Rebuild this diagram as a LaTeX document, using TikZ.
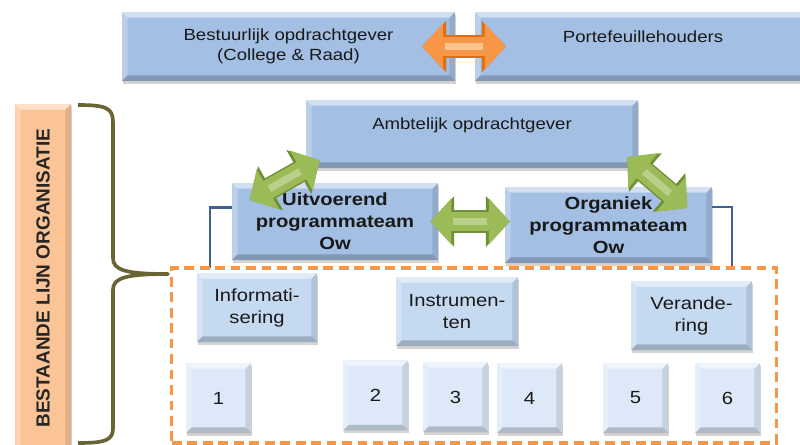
\documentclass[tikz,border=0pt]{standalone}
\usepackage{fontspec}
\setmainfont[FakeStretch=1.15]{Liberation Sans}
\newfontfamily\labelfont{Liberation Sans}
\usetikzlibrary{positioning, shadows, arrows.meta}

\definecolor{boxblue}{RGB}{163,191,228}
\definecolor{subblue}{RGB}{197,217,241}
\definecolor{numblue}{RGB}{221,233,248}
\definecolor{lijnorange}{RGB}{251,196,150}
\definecolor{accorange}{RGB}{247,150,70}
\definecolor{darkorange}{RGB}{226,110,20}
\definecolor{paleorange}{RGB}{250,196,140}
\definecolor{accgreen}{RGB}{155,187,89}
\definecolor{darkgreen}{RGB}{112,142,52}
\definecolor{lightgreen}{RGB}{186,208,138}
\definecolor{linkblue}{RGB}{62,98,146}
\definecolor{braceolive}{RGB}{106,99,52}

\tikzset{
  % bevelled edges: light on top and left, dark on right and bottom
  bevel/.style={path picture={
    \fill[white,opacity=.5] (path picture bounding box.north west) -- (path picture bounding box.north east)
      -- ([shift={(-4pt,-4pt)}]path picture bounding box.north east) -- ([shift={(4pt,-4pt)}]path picture bounding box.north west) -- cycle;
    \fill[white,opacity=.25] (path picture bounding box.north west) -- ([shift={(4pt,-4pt)}]path picture bounding box.north west)
      -- ([shift={(4pt,4pt)}]path picture bounding box.south west) -- (path picture bounding box.south west) -- cycle;
    \fill[black,opacity=.1] (path picture bounding box.north east) -- ([shift={(-4pt,-4pt)}]path picture bounding box.north east)
      -- ([shift={(-4pt,4pt)}]path picture bounding box.south east) -- (path picture bounding box.south east) -- cycle;
    \fill[black,opacity=.2] (path picture bounding box.south west) -- ([shift={(4pt,4pt)}]path picture bounding box.south west)
      -- ([shift={(-4pt,4pt)}]path picture bounding box.south east) -- (path picture bounding box.south east) -- cycle;
  }},
  box/.style={bevel, fill=boxblue, text=black!90, align=center, inner sep=0pt,
    drop shadow={shadow xshift=.6pt, shadow yshift=-1.8pt, opacity=.35},
    font=\fontsize{11.5}{14.2}\selectfont},
  team/.style={box, font=\bfseries\fontsize{12.5}{15.6}\selectfont},
  sub/.style={box, fill=subblue, font=\fontsize{12.5}{15.6}\selectfont,
    minimum width=3.025cm, minimum height=1.725cm},
  num/.style={box, fill=numblue, font=\fontsize{12.5}{15}\selectfont,
    minimum width=1.625cm, minimum height=1.75cm},
  lijn/.style={box, fill=lijnorange, minimum width=1.4cm, minimum height=8.7cm},
  dashframe/.style={draw=accorange, line width=2.2pt, dash pattern=on 7pt off 4pt,
    minimum width=15.1cm, minimum height=4.375cm, inner sep=0pt},
  link/.style={draw=linkblue, line width=2pt},
  garrow/.style={draw=accgreen, line width=14pt,
    arrows={Triangle[length=15pt,width=32pt]-Triangle[length=15pt,width=32pt]},
    preaction={draw=darkgreen, line width=16pt,
      arrows={Triangle[length=17pt,width=35pt]-Triangle[length=17pt,width=35pt]}},
    postaction={draw=lightgreen, line width=5pt, arrows=-, shorten <=16pt, shorten >=16pt}},
  oarrow/.style={garrow, draw=accorange,
    preaction={draw=darkorange, line width=16pt,
      arrows={Triangle[length=17pt,width=35pt]-Triangle[length=17pt,width=35pt]}},
    postaction={draw=paleorange, line width=5pt, arrows=-, shorten <=16pt, shorten >=16pt}},
  brace/.style={draw=braceolive, line width=2.6pt, line join=round},
}

\begin{document}
\begin{tikzpicture}[x=0.025cm, y=-0.025cm]
\useasboundingbox (0,0) rectangle (800,445);
\clip (0,0) rectangle (800,445);

% bestuurlijke laag
\node[box, minimum width=8.325cm, minimum height=1.725cm] (bestuur) at (288.5,46.5)
  {Bestuurlijk opdrachtgever\\(College \& Raad)};
\node[box, minimum width=8.4cm, minimum height=1.725cm] (porte) at (643,46.5)
  {Portefeuillehouders\\\mbox{}};
\draw[oarrow] ([xshift=-.83cm]bestuur.east) -- ([xshift=.78cm]porte.west);

% ambtelijke laag
\node[box, minimum width=8.3cm, minimum height=1.7cm] (ambt) at (472,134)
  {Ambtelijk opdrachtgever\\\mbox{}};
\node[team, minimum width=5.15cm, minimum height=1.925cm] (uit) at (335,221.5)
  {Uitvoerend\\programmateam\\Ow};
\node[team, minimum width=5.175cm, minimum height=1.9cm] (org) at (608.5,225)
  {Organiek\\programmateam\\Ow};

% lijnorganisatie
\node[lijn] (lijn) at (43,278) {};
\node[rotate=90, text=black!85, font=\labelfont\bfseries\fontsize{13.5}{16}\selectfont]
  (lijntekst) at (lijn.center) {BESTAANDE LIJN ORGANISATIE};
\draw[brace] (78,105) .. controls (106,105) and (113,108) .. (113,122) -- (113,258)
  .. controls (113,270) and (125,274) .. (168,274)
  .. controls (125,274) and (113,278) .. (113,290) -- (113,428)
  .. controls (113,440) and (106,443) .. (78,443);

\coordinate (lvoet) at (210,268);
\coordinate (rvoet) at (732,268);
\draw[link] ([yshift=.34cm]uit.west) -| (lvoet);
\draw[link] ([yshift=.45cm]org.east) -| (rvoet);
\node[dashframe] (bestaand) at (474,355.5) {};

\node[sub, minimum width=3cm] (info) at (257,307.5) {Informati-\\sering};
\node[sub, minimum width=3.05cm] (instr) at (457,311.5) {Instrumen-\\ten};
\node[sub] (verand) at (691.5,315.5) {Verande-\\ring};
\foreach \n/\x/\y in {1/218.5/398, 2/375.5/395.5, 3/455.5/397, 4/529.5/398, 5/635.5/398, 6/727.5/398}
  \node[num] (n\n) at (\x,\y) {\n};

% samenwerking
\draw[garrow] ([shift={(.45cm,-.43cm)}]uit.north west) -- ([shift={(.35cm,.2cm)}]ambt.south west);
\draw[garrow] ([shift={(-.28cm,.28cm)}]ambt.south east) -- ([shift={(-.63cm,-.53cm)}]org.north east);
\draw[garrow] ([xshift=-.2cm]uit.east) -- ([xshift=.13cm]uit.east -| org.west);
\end{tikzpicture}
\end{document}
